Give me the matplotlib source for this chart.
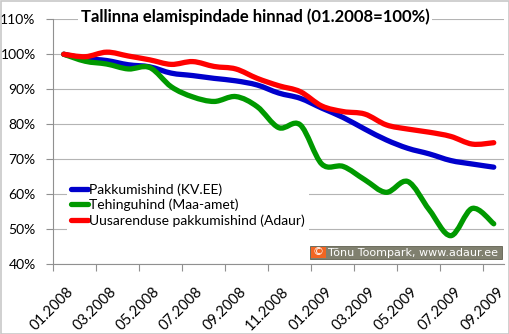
import matplotlib
matplotlib.use("Agg")
import matplotlib.pyplot as plt
from matplotlib.path import Path
from matplotlib.patches import PathPatch, Rectangle
from matplotlib.lines import Line2D
import matplotlib.transforms as mtransforms
import numpy as np

months = ["01.2008", "02.2008", "03.2008", "04.2008", "05.2008", "06.2008",
          "07.2008", "08.2008", "09.2008", "10.2008", "11.2008", "12.2008",
          "01.2009", "02.2009", "03.2009", "04.2009", "05.2009", "06.2009",
          "07.2009", "08.2009", "09.2009"]

pakkumishind = [100, 98.8, 98.2, 97.0, 96.4, 94.6, 93.9, 93.1, 92.4, 91.2, 88.9,
                87.4, 84.6, 81.9, 78.6, 75.5, 73.1, 71.5, 69.6, 68.6, 67.7]
tehinguhind = [100, 98.0, 97.2, 95.8, 96.2, 90.7, 87.8, 86.5, 87.9, 85.0, 79.0,
               79.8, 68.6, 67.9, 64.1, 60.5, 63.6, 55.5, 48.1, 55.9, 51.5]
uusarendus = [100, 99.3, 100.6, 99.5, 98.4, 97.1, 97.9, 96.5, 95.8, 93.1, 91.0,
              89.3, 85.2, 83.6, 82.9, 79.8, 78.6, 77.7, 76.5, 74.3, 74.7]

series = [
    ("Pakkumishind (KV.EE)", pakkumishind, "#0000cc"),
    ("Tehinguhind (Maa-amet)", tehinguhind, "#009900"),
    ("Uusarenduse pakkumishind (Adaur)", uusarendus, "#ff0000"),
]

plt.rcParams['font.family'] = ['Lato', 'DejaVu Sans']


def smooth_path(xs, ys):
    # Excel-like smoothed line: cubic bezier through the points
    pts = np.column_stack([xs, ys]).astype(float)
    n = len(pts)
    verts = [pts[0]]
    codes = [Path.MOVETO]
    for i in range(n - 1):
        p0 = pts[i - 1] if i > 0 else pts[i]
        p1 = pts[i]
        p2 = pts[i + 1]
        p3 = pts[i + 2] if i + 2 < n else pts[i + 1]
        c1 = p1 + (p2 - p0) / 6.0
        c2 = p2 - (p3 - p1) / 6.0
        verts += [c1, c2, p2]
        codes += [Path.CURVE4] * 3
    return Path(verts, codes)


W, H = 510, 334
fig = plt.figure(figsize=(W / 100, H / 100), dpi=100)
fig.patch.set_facecolor("white")

# outer frame
fig.patches.append(Rectangle((0.5 / W, 0.5 / H), 1 - 1.5 / W, 1 - 1.5 / H,
                             transform=fig.transFigure, fill=False,
                             edgecolor="#c8c8c8", lw=1.2))

left, right = 53 / W, 504.5 / W
bottom, top = (H - 264) / H, (H - 19.3) / H
ax = fig.add_axes([left, bottom, right - left, top - bottom])

x = np.arange(len(months))
for name, vals, col in series:
    ax.add_patch(PathPatch(smooth_path(x, vals), fill=False, edgecolor=col,
                           lw=3.8, capstyle="round", joinstyle="round", zorder=3))

ax.set_xlim(-0.5, len(months) - 0.5)
ax.set_ylim(40, 110)
ax.set_yticks(np.arange(40, 111, 10))
ax.set_yticklabels([f"{v}%" for v in range(40, 111, 10)], fontsize=10)
ax.yaxis.grid(True, color="#b4b4b4", lw=0.8)
ax.set_axisbelow(True)

ax.set_xticks(np.arange(-0.5, len(months), 2))
ax.set_xticklabels([])
ax.set_xticks(x[::2], minor=True)
ax.set_xticklabels(months[::2], minor=True, rotation=45, ha="right",
                   va="top", rotation_mode="anchor", fontsize=10.5)
ax.tick_params(axis="x", which="minor", length=0, pad=15)
ax.tick_params(axis="x", which="major", length=5, color="#909090", direction="out")
ax.tick_params(axis="y", length=5, color="#909090", pad=7.5)
off = mtransforms.ScaledTranslation(3 / 100, 0, fig.dpi_scale_trans)
for lab in ax.get_xticklabels(minor=True):
    lab.set_transform(lab.get_transform() + off)

for s in ["top", "right"]:
    ax.spines[s].set_visible(False)
for s in ["left", "bottom"]:
    ax.spines[s].set_color("#909090")
    ax.spines[s].set_linewidth(0.8)

handles = [Line2D([], [], color=col, lw=3.8, solid_capstyle="round")
           for _, _, col in series]
leg = ax.legend(handles, [s[0] for s in series], loc="upper left",
                bbox_to_anchor=(60 / W, (H - 172) / H), bbox_transform=fig.transFigure,
                fontsize=10, frameon=True, framealpha=1, edgecolor="none",
                facecolor="white", handlelength=1.25, handletextpad=0.05,
                labelspacing=0.22, borderpad=0.3, fancybox=False)
leg.set_zorder(4)

fig.text(255 / W, (H - 17) / H, "Tallinna elamispindade hinnad (01.2008=100%)",
         ha="center", va="center", fontsize=12, fontweight="bold",
         bbox=dict(facecolor="white", edgecolor="none", pad=2))

# watermark
fig.patches.append(Rectangle((310 / W, (H - 259) / H), 192 / W, 13 / H,
                             transform=fig.transFigure, facecolor="#80806f",
                             edgecolor="#606050", lw=0.6, zorder=5))
fig.patches.append(Rectangle((311 / W, (H - 258) / H), 15 / W, 11 / H,
                             transform=fig.transFigure, facecolor="#f26522",
                             edgecolor="none", zorder=6))
fig.text(318.5 / W, (H - 252.5) / H, "\u00a9", ha="center", va="center",
         color="white", fontsize=8, family="DejaVu Sans", zorder=7)
fig.text(328 / W, (H - 252.5) / H, "T\u00f5nu Toompark, www.adaur.ee",
         ha="left", va="center", color="white", fontsize=8,
         family="DejaVu Sans", zorder=7)

fig.savefig("out.png", dpi=100, facecolor="white")
